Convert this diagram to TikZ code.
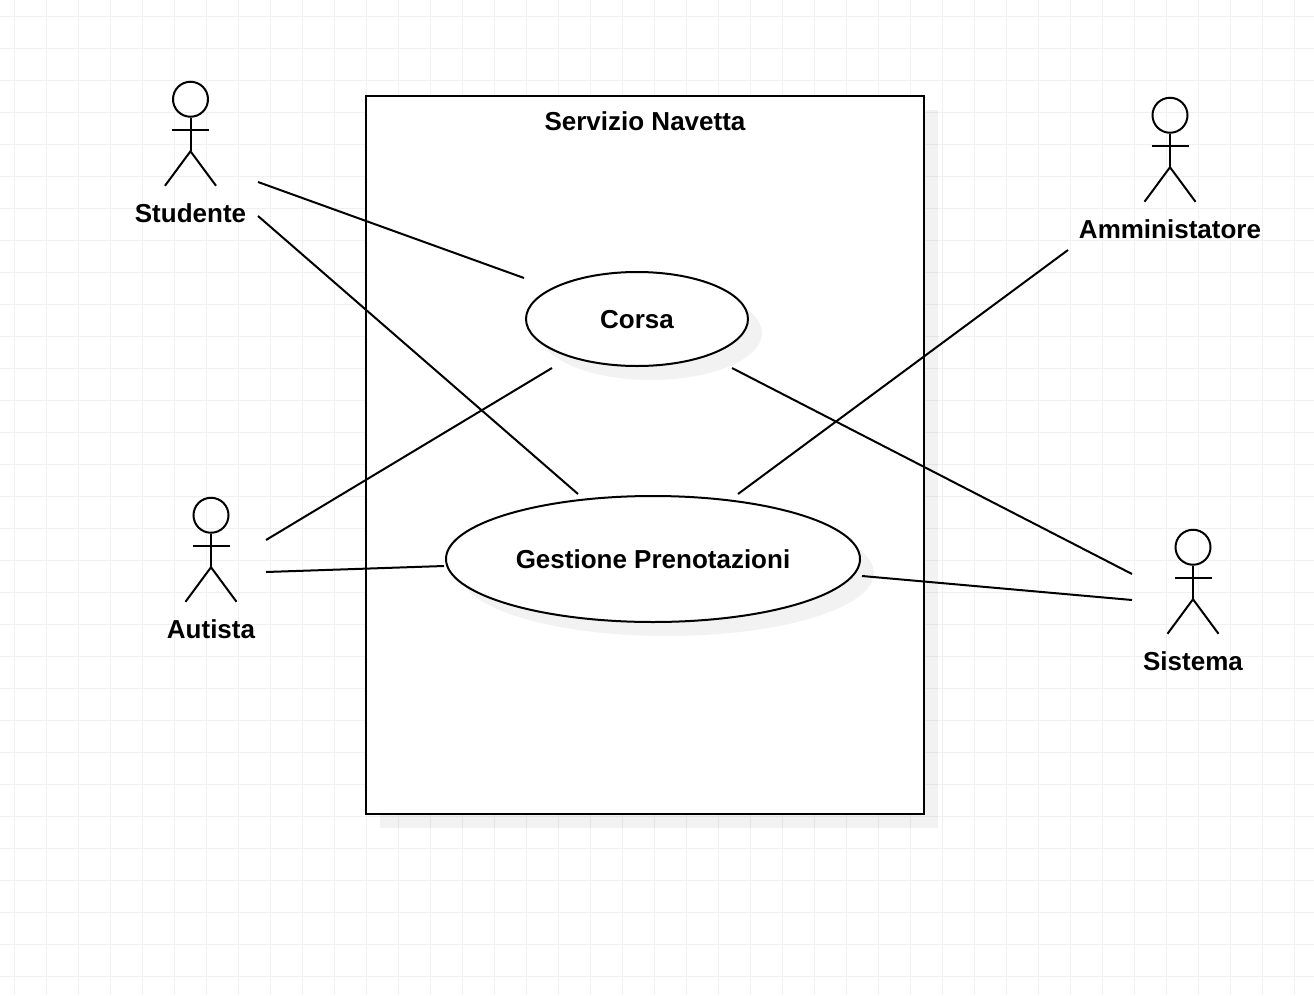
\documentclass[tikz,border=0pt]{standalone}
\usepackage{fontspec}
\setmainfont{Liberation Sans}
\usetikzlibrary{shadows}
\tikzset{gridline/.style = {draw=black!6, line width=0.75pt},
         sysbox/.style = {rectangle, draw, fill=white, line width=1.5pt, inner sep=0pt, minimum width=418.5pt, minimum height=538.5pt,
                          drop shadow={shadow xshift=10.5pt, shadow yshift=-10.5pt, fill=black, opacity=.05}},
         usecase/.style = {ellipse, draw, fill=white, line width=1.5pt, inner sep=0pt, text depth=0pt, font=\bfseries\fontsize{19.5}{23}\selectfont,
                           drop shadow={shadow xshift=10.5pt, shadow yshift=-10.5pt, fill=black, opacity=.05}},
         assoc/.style = {line width=1.5pt},
         head/.style = {circle, draw, line width=1.5pt, inner sep=0pt, minimum size=26.25pt},
         title/.style = {font=\bfseries\fontsize{19.5}{23}\selectfont, anchor=base},
         pics/actor/.style = {code={
           \node[head] (-head) at (0,0) {};
           \draw[assoc] (-head) -- (0,52);
           \draw[assoc] (-18.5,30.25) -- (18.5,30.25);
           \draw[assoc] (-25.5,86.5) -- (0,52) -- (25.5,86.5);
           \node[title] (-name) at (0,122.75) {#1};
         }}}
\usetikzlibrary{shapes.geometric}
\begin{document}
\begin{tikzpicture}[x=0.75pt, y=-0.75pt]
    \useasboundingbox (0,0) rectangle (1314,996);
    % background grid
    \foreach \gx in {14.5,46.5,...,1300} \draw[gridline] (\gx,0) -- (\gx,995);
    \foreach \gy in {16,48,...,990} \draw[gridline] (0,\gy) -- (1314,\gy);
    % system and use cases
    \node[sysbox] (sistemaBox) at (645,455) {};
    \node[title] (titolo) at (645,130) {Servizio Navetta};
    \node[usecase, minimum width=166.5pt, minimum height=70.5pt] (corsa) at (637,319) {Corsa};
    \node[usecase, minimum width=310.5pt, minimum height=94.5pt] (gestione) at (653,559) {Gestione Prenotazioni};
    % actors
    \pic (studente) at (190.5,99.25) {actor=Studente};
    \pic (amministratore) at (1170,115.25) {actor=Amministatore};
    \pic (autista) at (211,515.25) {actor=Autista};
    \pic (sistema) at (1193,547.25) {actor=Sistema};
    % free ends of the connectors
    \coordinate (stA) at (258,182); \coordinate (coA) at (524,278);
    \coordinate (stB) at (258,216); \coordinate (geA) at (578,494);
    \coordinate (auA) at (266,540); \coordinate (coB) at (552,368);
    \coordinate (auB) at (266,572); \coordinate (geB) at (444,566);
    \coordinate (amA) at (1068,250); \coordinate (geC) at (738,494);
    \coordinate (siA) at (1132,574); \coordinate (coC) at (732,368);
    \coordinate (siB) at (1132,600); \coordinate (geD) at (862,576);
    \draw[assoc] (stA) -- (coA);
    \draw[assoc] (stB) -- (geA);
    \draw[assoc] (auA) -- (coB);
    \draw[assoc] (auB) -- (geB);
    \draw[assoc] (amA) -- (geC);
    \draw[assoc] (coC) -- (siA);
    \draw[assoc] (geD) -- (siB);
\end{tikzpicture}
\end{document}
